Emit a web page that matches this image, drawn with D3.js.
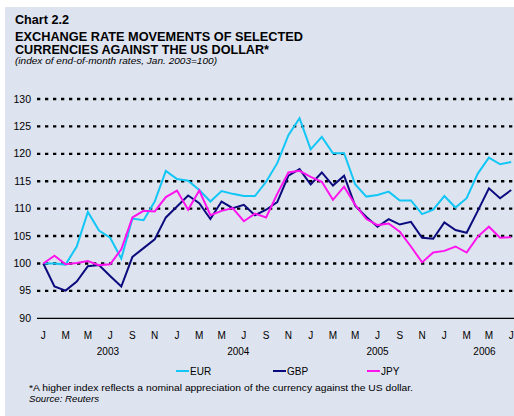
<!DOCTYPE html>
<html>
<head>
<meta charset="utf-8">
<script src="https://cdn.jsdelivr.net/npm/d3@7"></script>
<style>
	body { margin: 0; background: #fff; }
	svg { display: block; font-family: "Liberation Sans", Arial, sans-serif; }
</style>
</head>
<body>
<div id="chart"></div>
<script>
// monthly index, Jan 2003 - Jul 2006 (Jan 2003 = 100)
let months = ["J","F","M","A","M","J","J","A","S","O","N","D",
	"J","F","M","A","M","J","J","A","S","O","N","D",
	"J","F","M","A","M","J","J","A","S","O","N","D",
	"J","F","M","A","M","J","J"];

let eur = [100, 100, 99.8, 103.1, 109.4, 106, 104.7, 100.9, 108.2, 107.9, 111.3, 116.9,
	115.4, 115.1, 113.4, 111.3, 113.2, 112.7, 112.3, 112.3, 114.9, 118.3, 123.4, 126.5,
	120.8, 123.1, 120.1, 120.1, 114.4, 112.2, 112.5, 113.1, 111.5, 111.5, 109.0, 109.8,
	112.3, 110.2, 111.9, 116.4, 119.3, 118.1, 118.5];

let gbp = [100, 95.8, 95.05, 96.7, 99.5, 99.7, 97.7, 95.8, 101.2, 102.8, 104.4, 108.4,
	110.4, 112.4, 111, 108.1, 111.3, 110.1, 110.7, 108.8, 109.8, 111.2, 116.0, 117.2,
	114.4, 116.6, 114.2, 116.0, 110.5, 108.5, 106.7, 108.1, 107.1, 107.6, 104.7, 104.5,
	107.5, 106.1, 105.6, 109.6, 113.7, 111.9, 113.4];

let jpy = [100, 101.4, 99.85, 100.1, 100.45, 99.7, 99.85, 102.6, 108.4, 109.6, 109.5, 112.1,
	113.3, 109.8, 113.3, 108.8, 109.6, 110.1, 107.7, 109.1, 108.4, 112.7, 116.6, 116.9,
	115.8, 114.9, 111.6, 114.0, 110.7, 108.1, 107.0, 107.3, 105.8, 103.1, 100.2, 102.0,
	102.3, 103.1, 102.0, 104.9, 106.7, 104.7, 104.8];

let years = ["2003", "2004", "2005", "2006"];
let yearAt = [5.8, 17.5, 30, 39.6];   // month index under which the year sits

let yTicks = [90, 95, 100, 105, 110, 115, 120, 125, 130];

let seriesNames = ["EUR", "GBP", "JPY"];
let seriesColors = ["#12c6f6", "#0b0b7e", "#ff14f0"];

let width = 514, height = 416;

let svg = d3.select("#chart").append("svg")
	.attr("width", width)
	.attr("height", height);

// panel background
svg.append("rect")
	.attr("x", 5).attr("y", 7)
	.attr("width", width - 5).attr("height", height - 7)
	.attr("fill", "#dde3ef");

// titles
function addText(txt, x, y, size, weight, style, len){
	let t = svg.append("text")
		.attr("x", x).attr("y", y)
		.style("font-size", size + "px")
		.style("font-weight", weight)
		.style("font-style", style)
		.attr("fill", "#000")
		.text(txt);
	if (len) {
		t.attr("textLength", len).attr("lengthAdjust", "spacingAndGlyphs");
	}
	return t;
}

addText("Chart 2.2", 15, 24, 12, "bold", "normal", 54);
addText("EXCHANGE RATE MOVEMENTS OF SELECTED", 15, 41, 12.5, "bold", "normal", 288);
addText("CURRENCIES AGAINST THE US DOLLAR*", 15, 53.5, 12.5, "bold", "normal", 254);
addText("(index of end-of-month rates, Jan. 2003=100)", 15, 64, 9.5, "normal", "italic", 202);

// scales
let x = d3.scaleLinear()
	.domain([0, months.length - 1])
	.range([43.3, 511.2]);

let y = d3.scaleLinear()
	.domain([90, 130])
	.range([318.3, 99]);

// gridlines
svg.append("g").selectAll("line")
	.data(yTicks.filter(d => d > 90))
	.enter().append("line")
	.attr("x1", 37).attr("x2", width)
	.attr("y1", d => y(d)).attr("y2", d => y(d))
	.attr("stroke", "#000")
	.attr("stroke-width", 2.4)
	.attr("stroke-dasharray", "3.3,4.7");

// base axis
svg.append("line")
	.attr("x1", 37).attr("x2", width)
	.attr("y1", y(90)).attr("y2", y(90))
	.attr("stroke", "#000")
	.attr("stroke-width", 1.2);

// y labels
svg.append("g").selectAll("text")
	.data(yTicks)
	.enter().append("text")
	.attr("x", 31)
	.attr("y", d => y(d) + 3.6)
	.attr("text-anchor", "end")
	.style("font-size", "10.5px")
	.attr("fill", "#000")
	.text(d => d);

// month labels (every second month)
svg.append("g").selectAll("text")
	.data(months.map((m, i) => [m, i]).filter(d => d[1] % 2 == 0))
	.enter().append("text")
	.attr("x", d => x(d[1]))
	.attr("y", 338.5)
	.attr("text-anchor", "middle")
	.style("font-size", "10px")
	.attr("fill", "#000")
	.text(d => d[0]);

// years
svg.append("g").selectAll("text")
	.data(years)
	.enter().append("text")
	.attr("x", (d, i) => x(yearAt[i]))
	.attr("y", 354.5)
	.attr("text-anchor", "middle")
	.style("font-size", "10px")
	.attr("fill", "#000")
	.text(d => d);

// series lines
let line = d3.line()
	.x((d, i) => x(i))
	.y(d => y(d));

[eur, gbp, jpy].forEach(function(s, k){
	svg.append("path")
		.datum(s)
		.attr("fill", "none")
		.attr("stroke", seriesColors[k])
		.attr("stroke-width", 2)
		.attr("stroke-linejoin", "miter")
		.attr("d", line);
});

// legend
let legendX = [176, 273, 367];
seriesNames.forEach(function(name, k){
	svg.append("line")
		.attr("x1", legendX[k]).attr("x2", legendX[k] + 13)
		.attr("y1", 371).attr("y2", 371)
		.attr("stroke", seriesColors[k])
		.attr("stroke-width", 2);
	svg.append("text")
		.attr("x", legendX[k] + 14)
		.attr("y", 374.5)
		.style("font-size", "10px")
		.attr("fill", "#000")
		.text(name);
});

// footnotes
addText("*A higher index reflects a nominal appreciation of the currency against the US dollar.", 29, 391, 9.5, "normal", "normal", 384);
addText("Source: Reuters", 29, 402, 9.5, "normal", "italic", 70);
</script>
</body>
</html>
